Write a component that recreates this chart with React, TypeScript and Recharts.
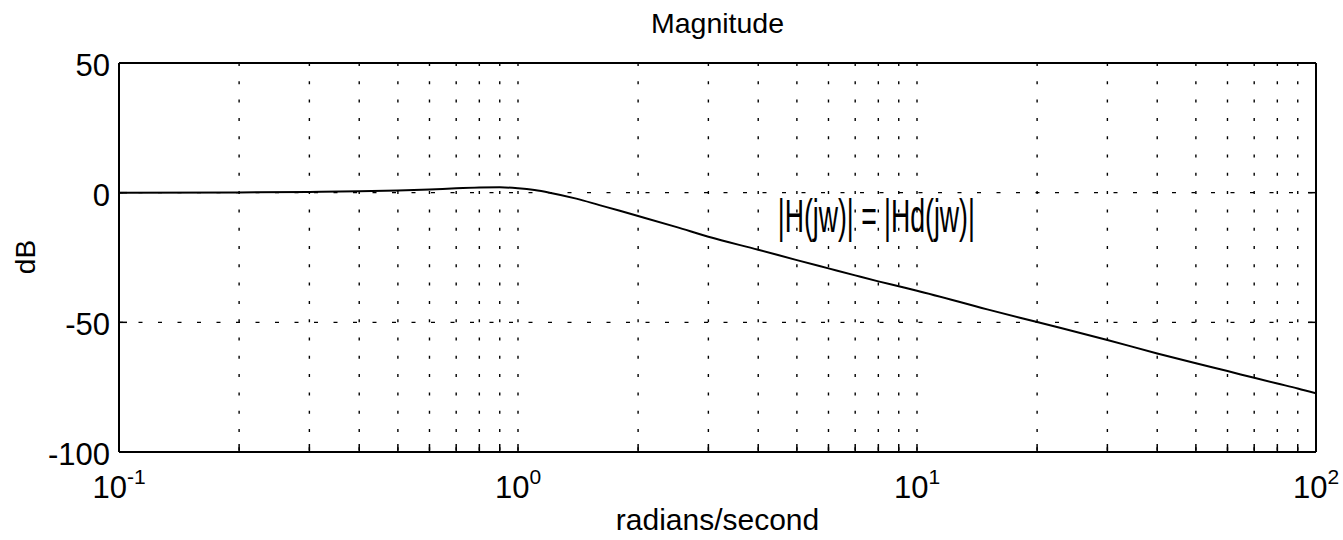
import React from 'react';
import { LineChart, Line, XAxis, YAxis, CartesianGrid, ReferenceDot, Label } from 'recharts';

// frequency (rad/s) and magnitude (dB)
const freqs = [0.1, 0.2, 0.3, 0.4, 0.5, 0.6, 0.7, 0.8, 0.9, 1.0, 1.1, 1.2, 1.4, 1.6, 1.8, 2, 2.5, 3, 4, 5, 6, 7, 8, 9, 10, 15, 20, 30, 40, 50, 60, 70, 80, 90, 100];
const magnitudeDb = [0, 0.1, 0.3, 0.5, 0.8, 1.2, 1.7, 2.0, 2.1, 1.7, 1.0, 0, -2.3, -4.8, -7.0, -9.0, -13.3, -17.0, -22.0, -26.0, -29.2, -31.9, -34.2, -36.1, -37.8, -45, -49.9, -56.8, -62, -65.8, -68.8, -71.4, -73.6, -75.5, -77.4];

const xTicks = [0.1, 0.2, 0.3, 0.4, 0.5, 0.6, 0.7, 0.8, 0.9, 1, 2, 3, 4, 5, 6, 7, 8, 9, 10, 20, 30, 40, 50, 60, 70, 80, 90, 100];
const majorXTicks = [0.1, 1, 10, 100];
const xTickExponents = ['-1', '0', '1', '2'];
const yTicks = [50, 0, -50, -100];

const titleText = 'Magnitude';
const xLabelText = 'radians/second';
const yLabelText = 'dB';
const annotationText = '|H(jw)| = |Hd(jw)|';
const annotationAt = { f: 4.48, db: -15.2 };

const data = freqs.map((f, i) => ({ f, db: magnitudeDb[i] }));

const FONT = '"Liberation Sans", Arial, Helvetica, sans-serif';

function XTick(props: any) {
  const { x, y, payload } = props;
  const idx = majorXTicks.indexOf(payload.value);
  if (idx < 0) return null;
  return (
    <text x={x} y={y + 38} textAnchor="middle" fontFamily={FONT} fontSize={31} fill="#000">
      <tspan>10</tspan>
      <tspan dy={-14} fontSize={21}>{xTickExponents[idx]}</tspan>
    </text>
  );
}

function YTick(props: any) {
  const { x, y, payload } = props;
  return (
    <text x={x} y={y + 2} dy="0.36em" textAnchor="end" fontFamily={FONT} fontSize={31} fill="#000">
      {payload.value}
    </text>
  );
}

const noTick = () => null;

export default function App() {
  return (
    <div style={{ position: 'absolute', left: 0, top: 0, width: 1343, height: 540, background: '#fff', fontFamily: FONT }}>
      <LineChart width={1343} height={540} data={data} margin={{ top: 62, right: 26, bottom: 0, left: 0 }}>
        <CartesianGrid horizontal={false} stroke="#000" strokeWidth={1.4} strokeDasharray="3 15.3" />
        <CartesianGrid vertical={false} stroke="#000" strokeWidth={1.4} strokeDasharray="4 15.5" />
        <XAxis
          dataKey="f"
          type="number"
          scale="log"
          domain={[0.1, 100]}
          allowDataOverflow
          ticks={xTicks}
          interval={0}
          height={88}
          tickSize={-8}
          tickMargin={16}
          tick={(p: any) => <XTick {...p} />}
          axisLine={{ stroke: '#000', strokeWidth: 2 }}
          tickLine={{ stroke: '#000', strokeWidth: 1.5 }}
        >
          <Label
            content={(p: any) => {
              const vb = p.viewBox;
              return (
                <text x={vb.x + vb.width / 2} y={530} textAnchor="middle" fontFamily={FONT} fontSize={30} fill="#000">
                  {xLabelText}
                </text>
              );
            }}
          />
        </XAxis>
        <XAxis
          xAxisId="top"
          orientation="top"
          type="number"
          scale="log"
          domain={[0.1, 100]}
          allowDataOverflow
          ticks={xTicks}
          interval={0}
          height={1}
          tickSize={-8}
          tick={noTick}
          axisLine={{ stroke: '#000', strokeWidth: 2 }}
          tickLine={{ stroke: '#000', strokeWidth: 1.5 }}
        >
          <Label
            content={(p: any) => {
              const vb = p.viewBox;
              return (
                <text x={vb.x + vb.width / 2} y={33} textAnchor="middle" style={{ fontFamily: FONT, fontSize: 28.5 }} fill="#000">
                  {titleText}
                </text>
              );
            }}
          />
        </XAxis>
        <YAxis
          type="number"
          domain={[-100, 50]}
          allowDataOverflow
          ticks={yTicks}
          interval={0}
          width={119}
          tickSize={-8}
          tickMargin={17}
          tick={(p: any) => <YTick {...p} />}
          axisLine={{ stroke: '#000', strokeWidth: 2 }}
          tickLine={{ stroke: '#000', strokeWidth: 1.5 }}
        >
          <Label
            content={() => (
              <text
                x={25}
                y={257}
                dy="0.36em"
                textAnchor="middle"
                transform="rotate(-90, 25, 257)"
                fontFamily={FONT}
                fontSize={28}
                fill="#000"
              >
                {yLabelText}
              </text>
            )}
          />
        </YAxis>
        <YAxis
          yAxisId="right"
          orientation="right"
          type="number"
          domain={[-100, 50]}
          allowDataOverflow
          ticks={yTicks}
          interval={0}
          width={1}
          tickSize={-8}
          tick={noTick}
          axisLine={{ stroke: '#000', strokeWidth: 2 }}
          tickLine={{ stroke: '#000', strokeWidth: 1.5 }}
        />
        <Line
          dataKey="db"
          type="monotone"
          stroke="#000"
          strokeWidth={2}
          dot={false}
          isAnimationActive={false}
        />
        <ReferenceDot
          x={annotationAt.f}
          y={annotationAt.db}
          r={0}
          fill="none"
          stroke="none"
          label={(p: any) => {
            const vb = p.viewBox || {};
            const cx = (vb.x ?? 0) + (vb.width ?? 0) / 2;
            const cy = (vb.y ?? 0) + (vb.height ?? 0) / 2;
            return (
              <text
                x={cx}
                y={cy}
                textLength={197}
                lengthAdjust="spacingAndGlyphs"
                fontFamily={FONT}
                fontSize={46}
                fill="#000"
              >
                {annotationText}
              </text>
            );
          }}
        />
      </LineChart>
    </div>
  );
}
